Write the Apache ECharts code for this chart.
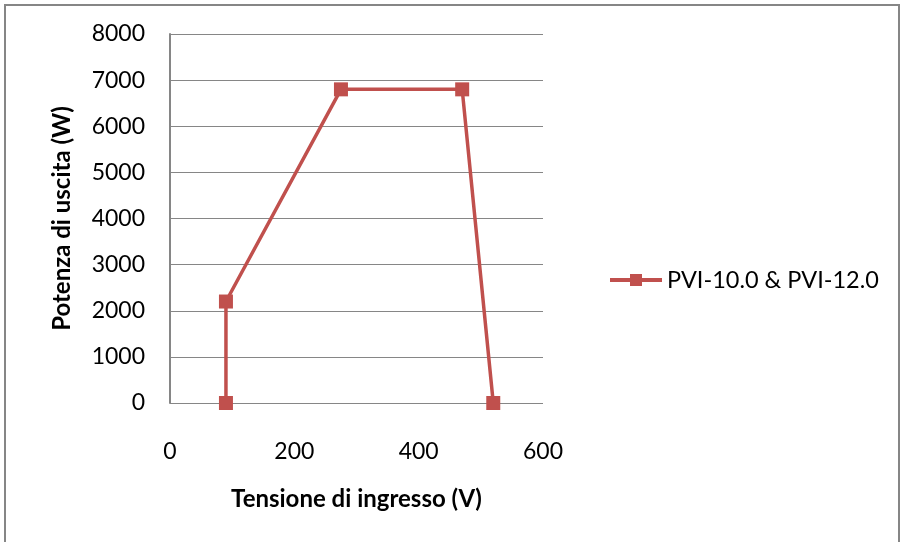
<!DOCTYPE html>
<html>
<head>
<meta charset="utf-8">
<script src="https://cdn.jsdelivr.net/npm/echarts@6/dist/echarts.min.js"></script>
<style>
html,body{margin:0;padding:0;background:#fff;}
#chart{width:901px;height:542px;}
</style>
</head>
<body>
<div id="chart"></div>
<script>
const seriesName = 'PVI-10.0 & PVI-12.0';
const voltage = [90, 90, 275, 470, 520];
const power = [0, 2200, 6800, 6800, 0];
const xTitle = 'Tensione di ingresso (V)';
const yTitle = 'Potenza di uscita (W)';

const FONT = 'Lato, "Open Sans", sans-serif';
const RED = '#C0504D';
const GRAY = '#868686';

const chart = echarts.init(document.getElementById('chart'), null, {renderer: 'canvas'});
chart.setOption({
  animation: false,
  backgroundColor: '#fff',
  graphic: [{
    type: 'rect',
    shape: {x: 5, y: 5, width: 894, height: 560},
    style: {fill: 'none', stroke: GRAY, lineWidth: 2},
    silent: true
  }],
  grid: {left: 170, top: 34, right: 358, bottom: 139, containLabel: false},
  legend: {
    data: [seriesName],
    left: 603, top: 263,
    itemWidth: 52, itemHeight: 15, itemGap: 8,
    lineStyle: {width: 4, color: RED},
    textStyle: {fontFamily: FONT, fontSize: 23.5, color: '#000'}
  },
  xAxis: {
    type: 'value', min: 0, max: 600, interval: 200,
    name: xTitle, nameLocation: 'middle', nameGap: 84,
    nameTextStyle: {fontFamily: FONT, fontSize: 24, fontWeight: 'bold', color: '#000'},
    axisLine: {show: false}, axisTick: {show: false}, splitLine: {show: false},
    axisLabel: {fontFamily: FONT, fontSize: 23, color: '#000', margin: 37}
  },
  yAxis: {
    type: 'value', min: 0, max: 8000, interval: 1000,
    name: yTitle, nameLocation: 'middle', nameGap: 96,
    nameTextStyle: {fontFamily: FONT, fontSize: 24, fontWeight: 'bold', color: '#000'},
    axisLine: {show: true, lineStyle: {color: GRAY, width: 2}},
    axisTick: {show: false},
    splitLine: {show: true, lineStyle: {color: GRAY, width: 1}},
    axisLabel: {fontFamily: FONT, fontSize: 23, color: '#000', margin: 25,
      formatter: v => String(v)}
  },
  series: [{
    name: seriesName,
    type: 'line',
    data: voltage.map((v, i) => [v, power[i]]),
    symbol: 'rect', symbolSize: 14,
    lineStyle: {color: RED, width: 3.5},
    itemStyle: {color: RED},
    z: 3
  }]
});
</script>
</body>
</html>
